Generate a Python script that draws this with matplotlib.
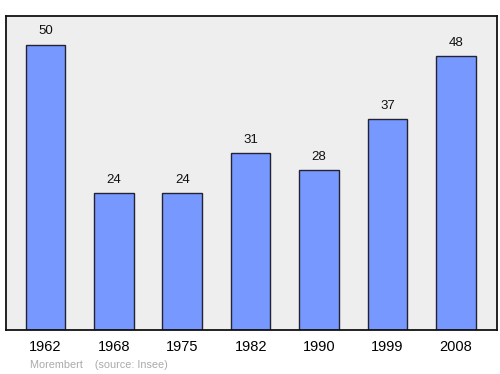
import matplotlib
matplotlib.use("Agg")
import matplotlib.pyplot as plt

years = ["1962", "1968", "1975", "1982", "1990", "1999", "2008"]
population = [50, 24, 24, 31, 28, 37, 48]
commune = "Morembert"
source = "(source: Insee)"

plt.rcParams['font.family'] = ['Liberation Sans', 'DejaVu Sans']

fig = plt.figure(figsize=(5, 3.74), dpi=100)
ax = fig.add_axes([6 / 500, 1 - 330 / 374, 491 / 500, 314 / 374])
ax.set_facecolor('#eeeeee')

x = range(len(years))
ax.bar(x, population, width=0.58, color='#7799ff', edgecolor='#222233', linewidth=1.0)
for i, v in zip(x, population):
    ax.annotate(str(v), (i, v), xytext=(0, 5.5), textcoords='offset points',
                ha='center', va='bottom', fontsize=9.5, color='#111111')

ax.set_xlim(-0.575, 6.6)
ax.set_ylim(0, 55.1)
ax.set_yticks([])
ax.set_xticks(list(x))
ax.set_xticklabels(years, fontsize=10.5)
ax.tick_params(axis='x', length=0, pad=7.5)
for s in ax.spines.values():
    s.set_linewidth(1.3)
    s.set_color('#111111')

fig.text(30 / 500, 1 - 365 / 374, commune + "    " + source, fontsize=7.8,
         color='#aaaaaa', va='center', ha='left')

fig.savefig("out.png", dpi=100)
